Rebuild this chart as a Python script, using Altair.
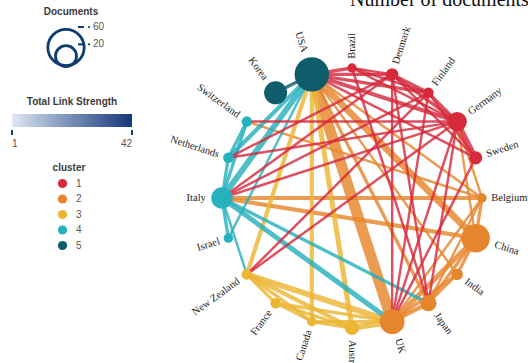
import math

import altair as alt
import pandas as pd

# ---- data -----------------------------------------------------------------
# Countries placed clockwise around the ring, starting at the top
countries = [
    "Brazil", "Denmark", "Finland", "Germany", "Sweden",
    "Belgium", "China", "India", "Japan", "UK",
    "Australia", "Canada", "France", "New Zealand", "Israel",
    "Italy", "Netherlands", "Switzerland", "Korea", "USA",
]
cluster = [1, 1, 1, 1, 1, 2, 2, 2, 2, 2, 3, 3, 3, 3, 4, 4, 4, 4, 5, 5]
documents = [4, 7, 5, 17, 8, 4, 37, 6, 12, 28, 9, 4, 5, 5, 4, 21, 5, 5, 24, 54]
total_link_strength = [8, 18, 16, 24, 12, 12, 25, 8, 15, 35, 14, 10, 9, 17, 4, 30, 10, 7, 1, 42]

# Co-authorship links: endpoints, link strength, cluster whose colour the link takes
edge_a = [
    "USA", "USA", "USA", "USA", "USA", "China", "Japan", "India", "Belgium", "China",
    "China", "India", "Belgium", "Belgium", "Italy", "Italy", "Switzerland", "Germany", "Germany",
    "USA", "USA", "USA", "New Zealand", "New Zealand", "New Zealand", "New Zealand", "France",
    "France", "France", "Canada", "Canada", "Australia",
    "USA", "USA", "USA", "Switzerland", "Switzerland", "Netherlands", "Italy", "Italy", "Italy", "Italy",
    "USA", "USA", "USA", "USA", "USA", "Brazil", "Brazil", "Brazil", "Denmark", "Denmark",
    "Denmark", "Finland", "Finland", "Germany", "Switzerland", "Netherlands", "Netherlands", "Italy",
    "Italy", "Italy", "New Zealand", "New Zealand", "UK", "UK", "UK", "UK", "Japan", "Japan", "Brazil",
    "USA",
]
edge_b = [
    "UK", "China", "Japan", "India", "Belgium", "UK", "UK", "UK", "UK", "Japan",
    "India", "Japan", "China", "Japan", "Belgium", "China", "Belgium", "Belgium", "China",
    "Australia", "Canada", "New Zealand", "UK", "Australia", "France", "Canada", "UK",
    "Australia", "Canada", "UK", "Australia", "UK",
    "Italy", "Netherlands", "Israel", "Italy", "Netherlands", "Italy", "Israel", "New Zealand", "UK", "Japan",
    "Brazil", "Denmark", "Finland", "Germany", "Sweden", "Denmark", "Finland", "Germany", "Finland", "Germany",
    "Sweden", "Germany", "Sweden", "Sweden", "Germany", "Germany", "Denmark", "Denmark",
    "Finland", "Germany", "Finland", "Germany", "Denmark", "Finland", "Germany", "Sweden", "Denmark", "Germany", "Japan",
    "Korea",
]
edge_w = [
    12, 7, 3, 2, 2, 5, 4, 3, 2, 3,
    3, 2, 3, 2, 4, 4, 2, 2, 2,
    5, 4, 4, 6, 4, 3, 3, 3,
    3, 2, 3, 3, 6,
    6, 4, 2, 3, 3, 3, 3, 2, 5, 3,
    3, 3, 3, 4, 2, 2, 2, 2, 3, 3,
    2, 3, 2, 5, 2, 2, 2, 2,
    2, 2, 2, 2, 2, 2, 2, 2, 2, 2, 2,
    3,
]
edge_c = (
    [2] * 19 + [3] * 13 + [4] * 10 + [1] * 29 + [5]
)

doc_breaks = [60, 20]
tls_extent = [1, 42]
cluster_ids = ["1", "2", "3", "4", "5"]
cluster_colors = ["#d62a3c", "#e5862d", "#ebb634", "#27b0bd", "#0f5c6b"]

# ---- layout -----------------------------------------------------------------
W, H = 528, 363
CX, CY = 352, 198          # ring centre in pixels
RING = 130                 # ring radius in pixels (1 data unit = 1 pixel)
SIZE_60 = 1320             # symbol area for 60 documents


def node_radius(d):
    return math.sqrt(d / 60 * SIZE_60 / math.pi)


rows = []
for i, (name, cl, doc, tls) in enumerate(zip(countries, cluster, documents, total_link_strength)):
    theta = 90 - 18 * i
    t = math.radians(theta)
    lr = RING + node_radius(doc) + 4
    right = theta >= -90
    rot = (-theta) % 360 if right else (180 - theta) % 360
    rows.append(dict(
        country=name, cluster=str(cl), documents=doc, tls=tls,
        x=RING * math.cos(t), y=RING * math.sin(t),
        lx=lr * math.cos(t), ly=lr * math.sin(t),
        rot=rot, side="right" if right else "left",
    ))
nodes = pd.DataFrame(rows)
pos = nodes.set_index("country")

palette = dict(zip(cluster_ids, cluster_colors))
edges = pd.DataFrame(dict(a=edge_a, b=edge_b, w=edge_w, cluster=[str(c) for c in edge_c]))
edges["hex"] = edges["cluster"].map(palette)
edges["x"] = edges["a"].map(pos["x"])
edges["y"] = edges["a"].map(pos["y"])
edges["x2"] = edges["b"].map(pos["x"])
edges["y2"] = edges["b"].map(pos["y"])

xs = alt.Scale(domain=[-CX, W - CX], nice=False, zero=False)
ys = alt.Scale(domain=[CY - H, CY], nice=False, zero=False)
size_scale = alt.Scale(domain=[0, 60], range=[0, SIZE_60])
cl_scale = alt.Scale(domain=cluster_ids, range=cluster_colors)

NAVY = "#0d3c6e"
SANS = "Liberation Sans"
SERIF = "Liberation Serif"

# ---- network ----------------------------------------------------------------
links = alt.Chart(edges).mark_rule(opacity=0.82).encode(
    x=alt.X("x:Q", scale=xs, axis=None),
    y=alt.Y("y:Q", scale=ys, axis=None),
    x2="x2:Q",
    y2="y2:Q",
    stroke=alt.Stroke("hex:N", scale=None),
    strokeWidth=alt.StrokeWidth("w:Q", scale=alt.Scale(domain=[1, 12], range=[1.6, 11]), legend=None),
)

strength = alt.Chart(nodes).mark_circle(opacity=1, size=4).encode(
    x=alt.X("x:Q", scale=xs, axis=None),
    y=alt.Y("y:Q", scale=ys, axis=None),
    fill=alt.Fill(
        "tls:Q",
        scale=alt.Scale(domain=tls_extent, range=["#dfe8f3", "#0b3a7a"]),
        legend=alt.Legend(
            title="Total Link Strength", orient="none", legendX=12, legendY=97,
            direction="horizontal", gradientLength=120, gradientThickness=13,
            values=tls_extent, labelOffset=12, titlePadding=7, titleAnchor="middle",
            gradientStrokeWidth=0,
        ),
    ),
)

node_marks = alt.Chart(nodes).mark_circle(opacity=1).encode(
    x=alt.X("x:Q", scale=xs, axis=None),
    y=alt.Y("y:Q", scale=ys, axis=None),
    size=alt.Size("documents:Q", scale=size_scale, legend=None),
    color=alt.Color(
        "cluster:N", scale=cl_scale,
        legend=alt.Legend(
            title="cluster", orient="none", legendX=53, legendY=163,
            symbolType="circle", symbolSize=85, labelOffset=8, rowPadding=4.5,
            titleAnchor="middle", titlePadding=5,
        ),
    ),
)


def country_labels(side, align):
    return alt.Chart(nodes[nodes["side"] == side]).mark_text(
        align=align, baseline="middle", font=SERIF, fontSize=10.5, color="#222222"
    ).encode(
        x=alt.X("lx:Q", scale=xs, axis=None),
        y=alt.Y("ly:Q", scale=ys, axis=None),
        angle=alt.Angle("rot:Q", scale=None),
        text="country:N",
    )


# ---- documents size key (nested circles) --------------------------------------
KEY_X, KEY_BASE = 66, 68
key = pd.DataFrame(dict(documents=doc_breaks))
key["r"] = key["documents"].map(node_radius)
key["cy"] = KEY_BASE - key["r"]
key["top"] = KEY_BASE - 2 * key["r"]
key["label"] = key["documents"].astype(str)

key_circles = alt.Chart(key).mark_point(shape="circle", filled=False, strokeWidth=2.8, color=NAVY, opacity=1).encode(
    x=alt.value(KEY_X),
    y=alt.Y("cy:Q", scale=None),
    size=alt.Size("documents:Q", scale=size_scale, legend=None),
)
key_ticks = alt.Chart(key).mark_rule(color=NAVY, strokeWidth=2).encode(
    x=alt.value(78), x2=alt.value(84), y=alt.Y("top:Q", scale=None)
)
key_dots = alt.Chart(key).mark_circle(color=NAVY, size=5, opacity=1).encode(
    x=alt.value(89), y=alt.Y("top:Q", scale=None)
)
key_text = alt.Chart(key).mark_text(align="left", baseline="middle", font=SANS, fontSize=10, color="#555555").encode(
    x=alt.value(93), y=alt.Y("top:Q", scale=None), text="label:N"
)
key_title = alt.Chart(pd.DataFrame(dict(t=["Documents"]))).mark_text(
    font=SANS, fontSize=10, fontWeight="bold", color="#3a3a3a", baseline="middle"
).encode(x=alt.value(71), y=alt.value(12), text="t:N")

# end ticks under the link-strength gradient
grad = pd.DataFrame(dict(v=tls_extent))
grad["px"] = 12 + (grad["v"] - tls_extent[0]) / (tls_extent[1] - tls_extent[0]) * 120
grad_ticks = alt.Chart(grad).mark_rule(color=NAVY, strokeWidth=2).encode(
    x=alt.X("px:Q", scale=None), y=alt.value(130), y2=alt.value(135)
)

heading = alt.Chart(pd.DataFrame(dict(t=["Number of documents"]))).mark_text(
    font=SERIF, fontSize=20, color="#111111", align="left", baseline="alphabetic"
).encode(x=alt.value(350), y=alt.value(6), text="t:N")

chart = alt.layer(
    links, strength, node_marks,
    country_labels("right", "left"), country_labels("left", "right"),
    key_circles, key_ticks, key_dots, key_text, key_title, grad_ticks, heading,
).properties(
    width=W, height=H, padding=0, autosize=alt.AutoSizeParams(type="none"),
).configure_view(stroke=None).configure_legend(
    titleFont=SANS, labelFont=SANS, titleFontSize=10, labelFontSize=10,
    titleColor="#3a3a3a", labelColor="#555555", titleFontWeight="bold",
)

chart.save("out.html", embed_options={"renderer": "svg", "actions": False})
